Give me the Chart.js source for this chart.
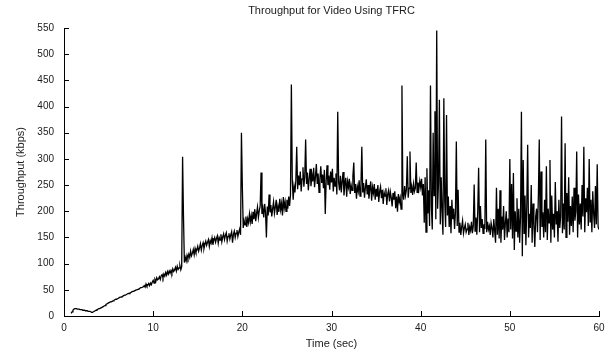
<!DOCTYPE html>
<html><head><meta charset="utf-8">
<style>html,body{margin:0;padding:0;background:#fff;}#wrap{width:614px;height:352px;}</style>
<script src="https://cdn.jsdelivr.net/npm/chart.js@4.4.0/dist/chart.umd.min.js"></script>
</head><body><div id="wrap"><canvas id="c" width="614" height="352"></canvas></div>
<script>
const chartTitle = 'Throughput for Video Using TFRC';
const xTitle = 'Time (sec)';
const yTitle = 'Throughput (kbps)';
const xTicks = [0, 10, 20, 30, 40, 50, 60];
const yTicks = [0, 50, 100, 150, 200, 250, 300, 350, 400, 450, 500, 550];
const sampleStart = 0.8;   // seconds
const sampleStep = 0.1;    // seconds between samples
const throughput = [
  5, 8,
  11, 13, 14, 14, 14, 13, 13, 13, 12, 12,
  12, 11, 11, 11, 10, 10, 10, 9, 9, 9,
  8, 7, 7, 8, 9, 10, 11, 12, 13, 14,
  14, 15, 16, 17, 18, 19, 20, 22, 23, 24,
  25, 26, 27, 27, 28, 29, 30, 31, 32, 32,
  33, 34, 35, 36, 36, 37, 38, 39, 40, 40,
  41, 42, 43, 43, 44, 45, 46, 47, 47, 48,
  49, 50, 50, 51, 52, 53, 54, 54, 55, 56,
  58, 55, 61, 57, 59, 62, 58, 63, 60, 65,
  68, 63, 70, 66, 73, 69, 71, 75, 70, 77,
  79, 73, 80, 76, 83, 78, 85, 80, 86, 82,
  87, 82, 90, 85, 88, 93, 86, 95, 89, 92,
  96, 88, 94, 304, 190, 102, 112, 105, 116, 110,
  118, 112, 124, 115, 120, 127, 117, 129, 122, 126,
  133, 124, 130, 138, 126, 135, 140, 129, 137, 143,
  135, 141, 146, 133, 144, 139, 149, 136, 145, 150,
  141, 148, 153, 139, 150, 145, 156, 142, 151, 157,
  146, 154, 159, 143, 152, 158, 147, 155, 161, 140,
  156, 162, 150, 158, 164, 152, 160, 166, 155, 350,
  248, 168, 182, 174, 190, 170, 186, 178, 195, 180,
  192, 176, 199, 185, 204, 181, 196, 208, 188, 201,
  210, 274, 195, 206, 188, 214, 198, 150, 209, 192,
  232, 198, 212, 190, 205, 218, 196, 208, 222, 193,
  210, 199, 224, 203, 215, 192, 227, 206, 218, 200,
  222, 205, 228, 210, 232, 442, 260, 222, 248, 236,
  258, 323, 242, 268, 250, 276, 238, 262, 284, 247,
  266, 337, 252, 274, 240, 262, 281, 248, 270, 257,
  283, 246, 266, 290, 252, 272, 236, 262, 286, 254,
  270, 244, 279, 195, 258, 288, 250, 268, 241, 276,
  255, 281, 238, 264, 248, 272, 232, 390, 256, 240,
  268, 236, 258, 275, 230, 252, 264, 228, 257, 246,
  262, 233, 250, 240, 268, 293, 235, 252, 224, 247,
  238, 259, 229, 248, 323, 236, 254, 226, 245, 261,
  232, 250, 224, 242, 257, 220, 246, 235, 252, 222,
  243, 228, 250, 218, 238, 247, 225, 241, 214, 236,
  229, 244, 212, 233, 240, 219, 237, 226, 209, 235,
  222, 238, 206, 228, 199, 233, 218, 226, 204, 440,
  236, 222, 248, 230, 241, 305, 226, 244, 314, 235,
  247, 231, 252, 238, 244, 293, 236, 255, 242, 258,
  246, 262, 230, 252, 178, 265, 160, 282, 196, 240,
  172, 440, 210, 165, 350, 230, 391, 185, 545, 205,
  255, 413, 175, 265, 198, 155, 416, 220, 170, 384,
  192, 228, 170, 210, 158, 222, 185, 205, 166, 198,
  333, 172, 241, 160, 178, 155, 170, 182, 158, 168,
  175, 160, 166, 178, 155, 170, 163, 180, 158, 172,
  251, 162, 188, 155, 200, 283, 160, 210, 168, 185,
  158, 175, 166, 337, 160, 180, 165, 172, 155, 178,
  168, 150, 185, 162, 140, 245, 155, 205, 148, 240,
  140, 190, 165, 210, 145, 178, 200, 150, 186, 160,
  300, 165, 252, 148, 273, 126, 200, 162, 225, 150,
  205, 140, 190, 390, 114, 298, 158, 230, 135, 210,
  327, 150, 195, 168, 250, 140, 215, 175, 132, 190,
  205, 160, 228, 337, 145, 276, 170, 198, 150, 222,
  160, 286, 145, 205, 178, 298, 140, 230, 165, 195,
  150, 256, 175, 200, 142, 222, 168, 190, 381, 158,
  215, 165, 330, 150, 235, 180, 265, 155, 210, 172,
  228, 160, 245, 182, 200, 314, 150, 232, 175, 215,
  165, 250, 190, 323, 160, 225, 198, 245, 172, 300,
  180, 222, 160, 238, 195, 168, 248, 175, 290, 170,
  165
];

const points = throughput.map((v, i) => ({ x: +(sampleStart + i * sampleStep).toFixed(2), y: v }));

const FONT = 'Liberation Sans, Arial, Helvetica, sans-serif';
const TXT = '#1a1a1a';

const inwardTicks = {
  id: 'inwardTicks',
  afterDatasetsDraw(chart) {
    const { ctx, chartArea, scales } = chart;
    ctx.save();
    ctx.strokeStyle = '#000';
    ctx.lineWidth = 1;
    ctx.beginPath();
    scales.x.ticks.forEach(t => {
      const px = Math.round(scales.x.getPixelForValue(t.value)) + 0.5;
      ctx.moveTo(px, chartArea.bottom);
      ctx.lineTo(px, chartArea.bottom - 5);
    });
    scales.y.ticks.forEach(t => {
      const py = Math.round(scales.y.getPixelForValue(t.value)) + 0.5;
      ctx.moveTo(chartArea.left, py);
      ctx.lineTo(chartArea.left + 5, py);
    });
    ctx.stroke();
    ctx.restore();
  }
};

const plotTitle = {
  id: 'plotTitle',
  afterDraw(chart) {
    const { ctx, chartArea } = chart;
    ctx.save();
    ctx.fillStyle = TXT;
    ctx.font = '11px ' + FONT;
    ctx.textAlign = 'center';
    ctx.textBaseline = 'middle';
    ctx.fillText(chartTitle, (chartArea.left + chartArea.right) / 2, 11);
    ctx.restore();
  }
};

new Chart(document.getElementById('c'), {
  type: 'line',
  data: {
    datasets: [{
      data: points,
      borderColor: '#000',
      borderWidth: 1.3,
      pointRadius: 0,
      fill: false,
      tension: 0
    }]
  },
  options: {
    responsive: false,
    devicePixelRatio: 1,
    animation: false,
    events: [],
    layout: { padding: { left: 0, right: 15, top: 28, bottom: 0 } },
    plugins: {
      legend: { display: false },
      tooltip: { enabled: false },
      title: { display: false }
    },
    scales: {
      x: {
        type: 'linear',
        min: 0, max: 60,
        afterBuildTicks: s => { s.ticks = xTicks.map(v => ({ value: v })); },
        afterFit: s => { s.height = 36; },
        grid: { display: true, drawOnChartArea: false, drawTicks: false },
        border: { display: true, color: '#000', width: 1 },
        ticks: { color: TXT, font: { family: FONT, size: 10 }, padding: 6, maxRotation: 0 },
        title: { display: true, text: xTitle, color: TXT, font: { family: FONT, size: 11 }, padding: { top: 0, bottom: 1 } }
      },
      y: {
        type: 'linear',
        min: 0, max: 550,
        afterBuildTicks: s => { s.ticks = yTicks.map(v => ({ value: v })); },
        afterFit: s => { s.width = 64; },
        grid: { display: true, drawOnChartArea: false, drawTicks: false },
        border: { display: true, color: '#000', width: 1 },
        ticks: { color: TXT, font: { family: FONT, size: 10 }, padding: 10 },
        title: { display: true, text: yTitle, color: TXT, font: { family: FONT, size: 11 }, padding: { top: 14, bottom: 0 } }
      }
    }
  },
  plugins: [inwardTicks, plotTitle]
});
</script>
</body></html>
